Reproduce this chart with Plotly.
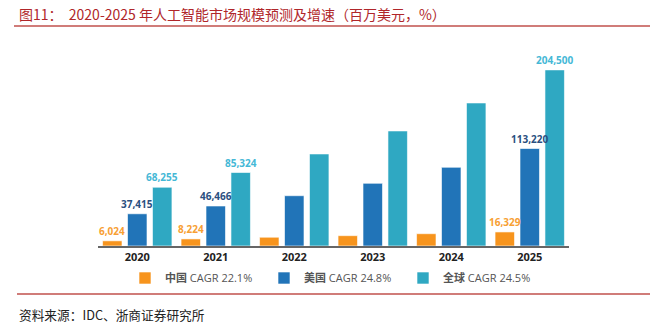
import plotly.graph_objects as go

years = ["2020", "2021", "2022", "2023", "2024", "2025"]
china = [6024, 8224, 10200, 12000, 14300, 16329]
usa = [37415, 46466, 58400, 72800, 91400, 113220]
world = [68255, 85324, 106900, 133600, 166100, 204500]
china_lbl = ["6,024", "8,224", "", "", "", "16,329"]
usa_lbl = ["37,415", "46,466", "", "", "", "113,220"]
world_lbl = ["68,255", "85,324", "", "", "", "204,500"]
regions = ["中国", "美国", "全球"]
cagr = ["CAGR 22.1%", "CAGR 24.8%", "CAGR 24.5%"]

W, H = 663, 324
ml, mr, mt, mb = 98, 94, 50, 78

def px2x(px):
    return (px - ml) / (W - ml - mr)

def py2y(py):
    return (H - mb - py) / (H - mt - mb)

fig = go.Figure()
series = [
    (china, china_lbl, 0, "#F7941D", "#F7A033"),
    (usa, usa_lbl, 1, "#2174B8", "#2A4F80"),
    (world, world_lbl, 2, "#2FA8C2", "#45B8D6"),
]
bargap, n = 0.046, 3
slot_px = (W - ml - mr) / len(years) * (1 - bargap) / n
for vals, lbl, i, col, tcol in series:
    fig.add_trace(go.Bar(
        x=years, y=vals, name=f"<b>{regions[i]}</b> {cagr[i]}",
        marker=dict(color=col, line=dict(color="rgba(255,255,255,0.6)", width=1)),
        hoverinfo="skip",
    ))
    for j, (v, t) in enumerate(zip(vals, lbl)):
        if t:
            fig.add_annotation(x=j, y=v, text=t, showarrow=False, xshift=(i - 1) * slot_px,
                               yanchor="bottom", yshift=1,
                               font=dict(family="Open Sans, DejaVu Sans", size=10, color=tcol, weight="bold"))

fig.update_layout(
    width=W, height=H,
    margin=dict(l=ml, r=mr, t=mt, b=mb),
    paper_bgcolor="white", plot_bgcolor="white",
    barmode="group", bargap=bargap, bargroupgap=0.22,
    showlegend=True,
    legend=dict(orientation="h", x=px2x(125), xanchor="left", y=py2y(278), yanchor="middle",
                yref="paper", entrywidth=94, font=dict(family="Open Sans, Noto Sans CJK SC", size=11, color="#555555"),
                itemwidth=30, traceorder="normal"),
    xaxis=dict(type="category", range=[-0.5, len(years) - 0.5], showline=True, linecolor="#666666",
               linewidth=1.5, ticks="", showgrid=False,
               tickfont=dict(family="Open Sans, DejaVu Sans", size=11, color="#222222", weight="bold")),
    yaxis=dict(visible=False, range=[0, 227600], showgrid=False, zeroline=False),
    font=dict(family="Noto Sans CJK SC"),
)

fig.add_annotation(text="图11：  2020-2025 年人工智能市场规模预测及增速（百万美元，%）",
                   xref="paper", yref="paper", x=px2x(17), y=py2y(14),
                   xanchor="left", yanchor="middle", showarrow=False,
                   font=dict(family="Noto Sans CJK SC", size=14, color="#B0262A"))
fig.add_annotation(text="资料来源：IDC、浙商证券研究所",
                   xref="paper", yref="paper", x=px2x(17), y=py2y(314),
                   xanchor="left", yanchor="middle", showarrow=False,
                   font=dict(family="Noto Sans CJK SC", size=12.7, color="#222222"))

fig.add_shape(type="line", xref="paper", yref="paper", x0=px2x(14), x1=px2x(650), y0=py2y(26), y1=py2y(26),
              line=dict(color="#C0504D", width=1.5))
fig.add_shape(type="line", xref="paper", yref="paper", x0=px2x(17), x1=px2x(650), y0=py2y(294), y1=py2y(294),
              line=dict(color="#C0504D", width=1.5))

fig.write_html("out.html")
